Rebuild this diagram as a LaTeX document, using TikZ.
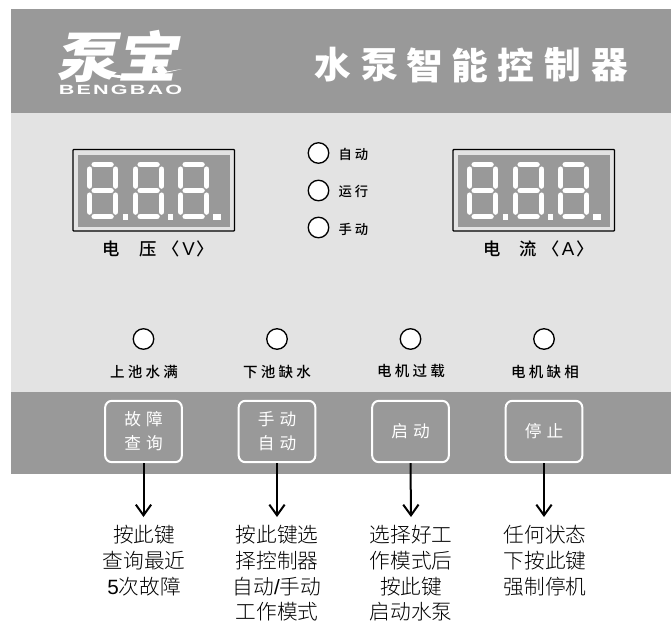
\documentclass[tikz,border=0pt]{standalone}
\usepackage{fontspec}
\setmainfont{Liberation Sans}
\newfontfamily\cjk{Noto Sans CJK SC}
\newfontfamily\cjkmed{Noto Sans CJK SC Medium}
\newfontfamily\cjklight{Noto Sans CJK SC Light}
\newfontfamily\cjkbold{Noto Sans CJK SC Black}
\newfontfamily\latinf{Liberation Sans}
\usetikzlibrary{arrows.meta}
\definecolor{band}{HTML}{999999}
\definecolor{face}{HTML}{E3E3E3}
\newcommand{\sz}[1]{\fontsize{#1}{#1}\selectfont}
\newcommand{\ks}{\kern2.4pt}
\newcommand{\keyline}[2]{\raisebox{-1.6pt}{#1\kern3.8pt #2}}
\tikzset{
  x=0.75pt,y=-0.75pt,
  led/.style={circle,draw=black,fill=white,line width=1pt,minimum size=15.4pt,inner sep=0pt},
  panelkey/.style={draw=white,fill=none,line width=1.5pt,rounded corners=5pt,minimum width=57.5pt,minimum height=46pt,inner sep=0pt,align=center,text=white,font=\cjk\sz{12.5}},
  caption/.style={font=\cjkmed\sz{10.9},text=black,inner sep=0pt},
  modelabel/.style={font=\cjkmed\sz{10},text=black,inner sep=0pt},
  unitlabel/.style={font=\cjkmed\sz{13},text=black,inner sep=0pt},
  note/.style={font=\cjklight\sz{15.5},text=black,inner sep=0pt},
  pointer/.style={draw=black,line width=1.5pt,-{Straight Barb[length=8pt,width=11.5pt,line width=1.5pt]}},
  seg/.style={line width=4.3pt,white,line cap=round},
  titlechar/.style={text=white,inner sep=0pt,font=\cjkbold\sz{27.5}},
}
\newcommand{\digit}[3]{%
  \begin{scope}[shift={(#1,0)}]
    \draw[seg] (4.7,0)--(21.3,0);
    \draw[seg] (4.7,26)--(21.3,26);
    \draw[seg] (4.7,52)--(21.3,52);
    \draw[seg] (0,4.7)--(0,21.3);
    \draw[seg] (26,4.7)--(26,21.3);
    \draw[seg] (0,30.7)--(0,47.3);
    \draw[seg] (26,30.7)--(26,47.3);
    \fill[white] (#2,49) rectangle (#3,55);
  \end{scope}}
\newcommand{\display}[1]{%
  \begin{scope}[shift={(#1,0)}]
    \draw[black,line width=1pt,fill=face,rounded corners=0.6pt] (73,149.5) rectangle (234.5,231);
    \fill[band] (78,155) rectangle (230,227);
    \begin{scope}[shift={(0,164.6)}]
      \digit{89.6}{33.4}{38.4}\digit{135.6}{32.4}{37.4}\digit{180.6}{32.4}{40}
    \end{scope}
  \end{scope}}
\begin{document}
\begin{tikzpicture}
\useasboundingbox (0,0) rectangle (671,621);
\fill[white] (0,0) rectangle (671,621);
\fill[face] (11,113) rectangle (671,392);
\fill[band] (11,9) rectangle (671,113);
\fill[band] (11,392) rectangle (671,473.5);
% logo
\node[name=logo,text=white,inner sep=0pt,font=\cjkbold\sz{43},xslant=0.2,yscale=0.95,xscale=1.06] at (121,56) {泵宝};
\fill[white] (98,67) .. controls (106,80) and (125,83) .. (182,69) .. controls (130,78) and (110,78) .. (98,67) -- cycle;
\node[name=brand,text=white,inner sep=0pt,font=\latinf\bfseries\sz{10},xscale=1.62] at (120.5,89.5) {B\kern1pt E\kern1pt N\kern1pt G\kern1pt B\kern1pt A\kern1pt O};
% title
\node[titlechar] (t1) at (333,65) {水};
\node[titlechar] (t2) at (380,65) {泵};
\node[titlechar] (t3) at (425,65) {智};
\node[titlechar] (t4) at (470,65) {能};
\node[titlechar] (t5) at (516,65) {控};
\node[titlechar] (t6) at (563,65) {制};
\node[titlechar] (t7) at (610,65) {器};
% displays
\display{0}
\display{380}
\node[unitlabel] (vlbl1) at (111.5,249) {电};
\node[unitlabel] (vlbl2) at (148,249) {压};
\node[unitlabel] (vlbl3) at (188.5,249) {〈\kern1.6pt{\latinf\sz{14}V}\kern1.6pt〉};
\node[unitlabel] (albl1) at (492,249) {电};
\node[unitlabel] (albl2) at (528,249) {流};
\node[unitlabel] (albl3) at (568,249) {〈\kern1.6pt{\latinf\sz{14}A}\kern1.6pt〉};
% mode leds
\node[led] (m1) at (318.5,153) {};
\node[led] (m2) at (318.5,190.5) {};
\node[led] (m3) at (318.5,227.5) {};
\node[modelabel] (ml1) at (353.5,154) {自\kern2.2pt动};
\node[modelabel] (ml2) at (353.5,191) {运\kern2.2pt行};
\node[modelabel] (ml3) at (353.5,229) {手\kern2.2pt动};
% status leds
\node[led] (s1) at (143.5,339) {};
\node[led] (s2) at (277,339) {};
\node[led] (s3) at (410.5,339) {};
\node[led] (s4) at (544,339) {};
\node[caption] (c1) at (144,371.5) {上\ks 池\ks 水\ks 满};
\node[caption] (c2) at (277,371.5) {下\ks 池\ks 缺\ks 水};
\node[caption] (c3) at (411,371.5) {电\ks 机\ks 过\ks 载};
\node[caption] (c4) at (545,371.5) {电\ks 机\ks 缺\ks 相};
% keys
\node[panelkey] (k1) at (143.5,431.5) {\keyline{故}{障}\\[5.5pt]\keyline{查}{询}};
\node[panelkey] (k2) at (277,431.5) {\keyline{手}{动}\\[5.5pt]\keyline{自}{动}};
\node[panelkey] (k3) at (410.5,431.5) {\keyline{启}{动}};
\node[panelkey] (k4) at (544,431.5) {\keyline{停}{止}};
% pointer ends
\coordinate (p1) at (143.5,517);
\coordinate (p2) at (277,517);
\coordinate (p3) at (411,517);
\coordinate (p4) at (544,517);
\draw[pointer] (k1.south) -- (p1);
\draw[pointer] (k2.south) -- (p2);
\draw[pointer] (k3.south) -- (p3);
\draw[pointer] (k4.south) -- (p4);
% notes
\node[note] at (144,534.5) {按此键};
\node[note] at (144,560.5) {查询最近};
\node[note] at (144,587) {{\latinf 5}次故障};
\node[note] at (277,534.5) {按此键选};
\node[note] at (277,560.5) {择控制器};
\node[note] at (277,587) {自动{\latinf /}手动};
\node[note] at (277,612) {工作模式};
\node[note] at (411,534.5) {选择好工};
\node[note] at (411,560.5) {作模式后};
\node[note] at (411,586.5) {按此键};
\node[note] at (411,612) {启动水泵};
\node[note] at (545,534.5) {任何状态};
\node[note] at (545,560.5) {下按此键};
\node[note] at (545,586.5) {强制停机};
\end{tikzpicture}
\end{document}
